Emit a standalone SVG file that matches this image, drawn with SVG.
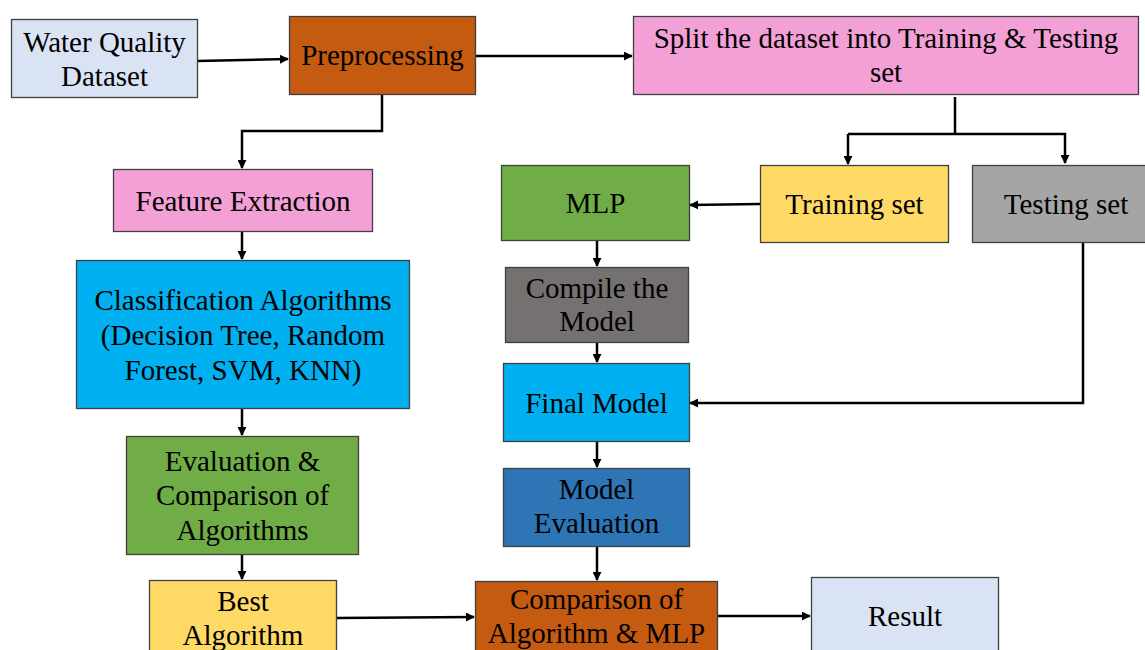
<svg xmlns="http://www.w3.org/2000/svg" width="1145" height="650" viewBox="0 0 1145 650">
  <style>
    .box { stroke: #404040; stroke-width: 1.3; }
    .lbl { font-family: "Liberation Serif", "DejaVu Serif", serif; font-size: 29px; fill: #000; text-anchor: middle; }
    .wire { fill: none; stroke: #000; stroke-width: 2.5; }
  </style>
  <defs>
    <marker id="head" viewBox="0 0 10 10" refX="9" refY="5" markerWidth="3.6" markerHeight="3.6" orient="auto" markerUnits="strokeWidth">
      <path d="M0,0 L10,5 L0,10 z" fill="#000"/>
    </marker>
  </defs>

  <rect width="1145" height="650" fill="#fff"/>

  <!-- connectors -->
  <g id="connectors">
    <path class="wire" d="M197,61 L288,59" marker-end="url(#head)"/>
    <path class="wire" d="M475,56 L632,56" marker-end="url(#head)"/>
    <path class="wire" d="M382,94 L382,131 L242,131 L242,168" marker-end="url(#head)"/>
    <path class="wire" d="M955,97 L955,134"/>
    <path class="wire" d="M848,134 L1065,134 L1065,163" marker-end="url(#head)"/>
    <path class="wire" d="M848,134 L848,164" marker-end="url(#head)"/>
    <path class="wire" d="M760,204 L690,205" marker-end="url(#head)"/>
    <path class="wire" d="M597,240 L597,266" marker-end="url(#head)"/>
    <path class="wire" d="M597,342 L597,362" marker-end="url(#head)"/>
    <path class="wire" d="M1083,242 L1083,403 L690,403" marker-end="url(#head)"/>
    <path class="wire" d="M597,441 L597,467" marker-end="url(#head)"/>
    <path class="wire" d="M597,546 L597,580" marker-end="url(#head)"/>
    <path class="wire" d="M242,232 L242,259" marker-end="url(#head)"/>
    <path class="wire" d="M242,408 L242,435" marker-end="url(#head)"/>
    <path class="wire" d="M242,555 L242,579" marker-end="url(#head)"/>
    <path class="wire" d="M336,618 L474,617" marker-end="url(#head)"/>
    <path class="wire" d="M717,616 L810,616" marker-end="url(#head)"/>
  </g>

  <g id="water-quality-dataset">
    <rect class="box" x="11.5" y="19.5" width="186" height="78" fill="#dae3f3"/>
    <text class="lbl" x="104.5" y="52">Water Quality</text>
    <text class="lbl" x="104.5" y="86">Dataset</text>
  </g>

  <g id="preprocessing">
    <rect class="box" x="289.5" y="16.5" width="186" height="78" fill="#c55a11"/>
    <text class="lbl" x="382.5" y="65">Preprocessing</text>
  </g>

  <g id="split">
    <rect class="box" x="633.5" y="16.5" width="505" height="78" fill="#f3a0d6"/>
    <text class="lbl" x="886" y="48">Split the dataset into Training &amp; Testing</text>
    <text class="lbl" x="886" y="82">set</text>
  </g>

  <g id="feature-extraction">
    <rect class="box" x="113.5" y="169.5" width="259" height="62" fill="#f3a0d6"/>
    <text class="lbl" x="243" y="211">Feature Extraction</text>
  </g>

  <g id="classification">
    <rect class="box" x="76.5" y="260.5" width="333" height="148" fill="#00b0f0"/>
    <text class="lbl" x="243" y="310">Classification Algorithms</text>
    <text class="lbl" x="243" y="345">(Decision Tree, Random</text>
    <text class="lbl" x="243" y="380">Forest, SVM, KNN)</text>
  </g>

  <g id="evaluation-comparison">
    <rect class="box" x="126.5" y="436.5" width="232" height="118" fill="#70ad47"/>
    <text class="lbl" x="242.5" y="471">Evaluation &amp;</text>
    <text class="lbl" x="242.5" y="505">Comparison of</text>
    <text class="lbl" x="242.5" y="540">Algorithms</text>
  </g>

  <g id="best-algorithm">
    <rect class="box" x="149.5" y="580.5" width="187" height="90" fill="#ffd966"/>
    <text class="lbl" x="243" y="611">Best</text>
    <text class="lbl" x="243" y="645">Algorithm</text>
  </g>

  <g id="mlp">
    <rect class="box" x="501.5" y="165.5" width="188" height="75" fill="#70ad47"/>
    <text class="lbl" x="595.5" y="213">MLP</text>
  </g>

  <g id="training-set">
    <rect class="box" x="760.5" y="165.5" width="188" height="77" fill="#ffd966"/>
    <text class="lbl" x="854.5" y="214">Training set</text>
  </g>

  <g id="testing-set">
    <rect class="box" x="972.5" y="165.5" width="188" height="77" fill="#a5a5a5"/>
    <text class="lbl" x="1066" y="214">Testing set</text>
  </g>

  <g id="compile-model">
    <rect class="box" x="505.5" y="267.5" width="183" height="75" fill="#767171"/>
    <text class="lbl" x="597" y="298">Compile the</text>
    <text class="lbl" x="597" y="331">Model</text>
  </g>

  <g id="final-model">
    <rect class="box" x="503.5" y="363.5" width="186" height="78" fill="#00b0f0"/>
    <text class="lbl" x="596.5" y="413">Final Model</text>
  </g>

  <g id="model-evaluation">
    <rect class="box" x="503.5" y="468.5" width="186" height="78" fill="#2e75b6"/>
    <text class="lbl" x="596.5" y="499">Model</text>
    <text class="lbl" x="596.5" y="533">Evaluation</text>
  </g>

  <g id="comparison-mlp">
    <rect class="box" x="475.5" y="581.5" width="242" height="90" fill="#c55a11"/>
    <text class="lbl" x="596.5" y="609">Comparison of</text>
    <text class="lbl" x="596.5" y="643">Algorithm &amp; MLP</text>
  </g>

  <g id="result">
    <rect class="box" x="811.5" y="577.5" width="187" height="90" fill="#dae3f3"/>
    <text class="lbl" x="905" y="626">Result</text>
  </g>
</svg>
